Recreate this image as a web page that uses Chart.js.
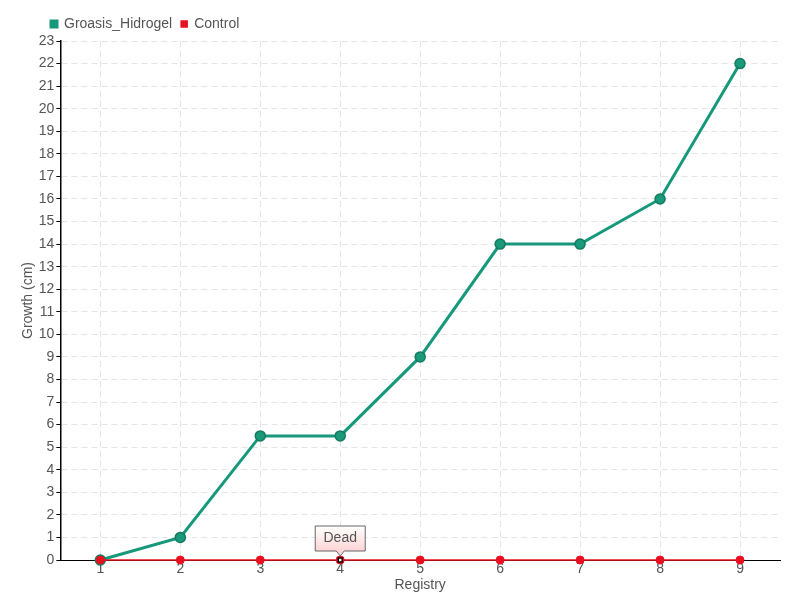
<!DOCTYPE html>
<html lang="en">
<head>
    <meta charset="UTF-8">
    <title>Growth</title>
    <script src="https://cdn.jsdelivr.net/npm/chart.js"></script>
    <style>
        body { margin: 0; background: #fff; }
        #wrap { width: 800px; height: 600px; }
    </style>
</head>
<body>
    <div id="wrap"><canvas id="growthChart" width="800" height="600"></canvas></div>

    <script>
        const registry = ['1', '2', '3', '4', '5', '6', '7', '8', '9'];
        const groasisHidrogel = [0, 1, 5.5, 5.5, 9, 14, 14, 16, 22];
        const control = [0, 0, 0, 0, 0, 0, 0, 0, 0];
        const noteIndex = 3;
        const noteText = 'Dead';

        const FONT = "'Liberation Sans', sans-serif";

        // box with the "Dead" label above the control point
        const notePlugin = {
            id: 'note',
            afterLayout(chart) {
                // legend starts a bit further right in the original
                chart.legend.left += 22;
            },
            afterDatasetsDraw(chart) {
                const c = chart.ctx;
                const x = chart.scales.x.getPixelForValue(noteIndex);
                const y = chart.scales.y.getPixelForValue(control[noteIndex]);
                // highlighted point
                c.save();
                c.beginPath();
                c.arc(x, y, 4, 0, Math.PI * 2);
                c.fillStyle = '#e8101f';
                c.fill();
                c.fillStyle = '#fff';
                c.strokeStyle = '#000';
                c.lineWidth = 1.5;
                c.fillRect(x - 2, y - 2, 4, 4);
                c.strokeRect(x - 2, y - 2, 4, 4);

                const w = 50, h = 25;
                const bx = x - 25, by = y - 34;
                const g = c.createLinearGradient(0, by, 0, by + h);
                g.addColorStop(0, '#ffffff');
                g.addColorStop(1, '#fdd5d5');
                c.beginPath();
                c.moveTo(bx, by);
                c.lineTo(bx + w, by);
                c.lineTo(bx + w, by + h);
                c.lineTo(x + 4, by + h);
                c.lineTo(x, by + h + 5);
                c.lineTo(x - 4, by + h);
                c.lineTo(bx, by + h);
                c.closePath();
                c.fillStyle = g;
                c.fill();
                c.strokeStyle = '#666';
                c.lineWidth = 1;
                c.stroke();
                c.fillStyle = '#555';
                c.font = '14px ' + FONT;
                c.textAlign = 'center';
                c.textBaseline = 'middle';
                c.fillText(noteText, x, by + h / 2);
                c.restore();
            }
        };

        const ctx = document.getElementById('growthChart').getContext('2d');
        new Chart(ctx, {
            type: 'line',
            data: {
                labels: registry,
                datasets: [{
                    label: 'Groasis_Hidrogel',
                    data: groasisHidrogel,
                    borderColor: '#16987a',
                    backgroundColor: '#1a9a7a',
                    pointBorderColor: '#157a60',
                    borderWidth: 3,
                    pointRadius: 5,
                    pointBorderWidth: 1.5,
                    tension: 0,
                    clip: false,
                    order: 2
                }, {
                    label: 'Control',
                    data: control,
                    borderColor: '#e8101f',
                    backgroundColor: '#e8101f',
                    borderWidth: 1.5,
                    pointRadius: 4,
                    pointBorderWidth: 1,
                    tension: 0,
                    clip: false,
                    order: 1
                }]
            },
            options: {
                responsive: false,
                animation: false,
                layout: { padding: { left: 20, right: 20, top: 8, bottom: 8 } },
                plugins: {
                    tooltip: { enabled: false },
                    legend: {
                        position: 'top',
                        align: 'start',
                        labels: {
                            boxWidth: 6,
                            boxHeight: 6,
                            padding: 9,
                            color: '#555',
                            font: { family: FONT, size: 14 },
                            sort: (a, b) => a.datasetIndex - b.datasetIndex
                        }
                    }
                },
                scales: {
                    x: {
                        offset: true,
                        border: { display: true, color: '#000', width: 1, dash: [6, 4] },
                        grid: { color: '#e4e4e4', drawTicks: false, offset: false },
                        ticks: { color: '#555', padding: 2, font: { family: FONT, size: 14, lineHeight: 1 } },
                        title: { display: true, text: 'Registry', color: '#555', padding: 0, font: { family: FONT, size: 14, lineHeight: 1 } }
                    },
                    y: {
                        min: 0,
                        max: 23,
                        border: { display: true, color: '#000', width: 1.5, dash: [6, 4] },
                        grid: { color: '#e4e4e4', tickColor: '#000', tickLength: 4 },
                        ticks: { stepSize: 1, color: '#555', padding: 2, font: { family: FONT, size: 14 } },
                        title: { display: true, text: 'Growth (cm)', color: '#555', padding: 0, font: { family: FONT, size: 14 } }
                    }
                }
            },
            plugins: [notePlugin]
        });
    </script>
</body>
</html>
